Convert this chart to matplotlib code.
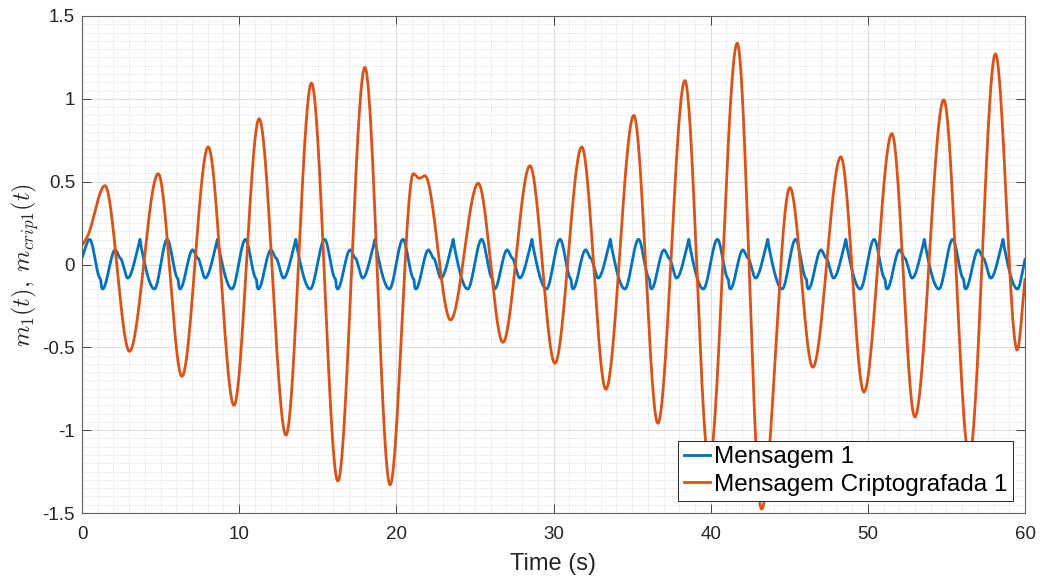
import numpy as np
import matplotlib.pyplot as plt
from matplotlib.ticker import MultipleLocator

plt.rcParams['font.family'] = ['Liberation Sans', 'DejaVu Sans']
plt.rcParams['mathtext.fontset'] = 'cm'

# %% mensagem 1 -- one period of the message (phase in s from the big peak, value)
blue_phase = [0.00, 0.60, 0.70, 0.75, 0.82, 1.62, 1.92, 2.00, 2.06, 2.42, 3.12, 3.20, 3.25, 4.12]
blue_shape = [0.152, -0.075, -0.092, -0.135, -0.148, 0.088, 0.040, 0.034, 0.018, -0.082,
              0.120, 0.152, 0.118, -0.148]
# time of the big peak in each period
blue_starts = [0.49, 5.42, 10.40, 15.44, 20.42, 25.43, 30.42, 35.41, 40.43, 45.40, 50.40, 55.40]
blue_t0, blue_v0 = 0.0, 0.04
blue_t1, blue_v1 = 60.0, 0.03

# %% mensagem criptografada 1 -- extrema
crip_t = [0.0, 0.35, 1.46, 3.02, 4.85, 6.36, 8.03, 9.67, 11.27, 12.98,
          14.6, 16.28, 18.0, 19.6, 21.08, 21.46, 21.82, 23.45, 25.21, 26.78,
          28.5, 30.09, 31.8, 33.33, 35.11, 36.64, 38.36, 39.9, 41.69, 43.24,
          45.04, 46.5, 48.28, 49.75, 51.53, 52.99, 54.83, 56.45, 58.12, 59.5, 60.0]
crip_v = [0.115, 0.17, 0.476, -0.524, 0.548, -0.675, 0.71, -0.85, 0.88, -1.03,
          1.095, -1.307, 1.19, -1.33, 0.548, 0.52, 0.536, -0.335, 0.49, -0.47,
          0.596, -0.596, 0.71, -0.753, 0.9, -0.958, 1.11, -1.2, 1.336, -1.476,
          0.464, -0.62, 0.65, -0.77, 0.79, -0.92, 0.994, -1.16, 1.271, -0.516, -0.09]

yticks = [-1.5, -1, -0.5, 0, 0.5, 1, 1.5]
ytick_labels = ['-1.5', '-1', '-0.5', '0', '0.5', '1', '1.5']
xticks = [0, 10, 20, 30, 40, 50, 60]


def pchip(x, y, xs):
    # monotone cubic through the points
    x = np.asarray(x, float)
    y = np.asarray(y, float)
    h = np.diff(x)
    d = np.diff(y) / h
    m = np.zeros_like(y)
    for k in range(1, len(x) - 1):
        if d[k - 1] * d[k] > 0:
            w1 = 2 * h[k] + h[k - 1]
            w2 = h[k] + 2 * h[k - 1]
            m[k] = (w1 + w2) / (w1 / d[k - 1] + w2 / d[k])
    m[0] = d[0]
    m[-1] = d[-1]
    i = np.clip(np.searchsorted(x, xs, side='right') - 1, 0, len(x) - 2)
    s = (xs - x[i]) / h[i]
    h00 = 2 * s**3 - 3 * s**2 + 1
    h10 = s**3 - 2 * s**2 + s
    h01 = -2 * s**3 + 3 * s**2
    h11 = s**3 - s**2
    return h00 * y[i] + h10 * h[i] * m[i] + h01 * y[i + 1] + h11 * h[i] * m[i + 1]


bt = [blue_t0] + [s + p for s in blue_starts for p in blue_phase] + [blue_t1]
bv = [blue_v0] + blue_shape * len(blue_starts) + [blue_v1]

t = np.linspace(0, 60, 6001)
m1 = pchip(bt, bv, t)
mc = pchip(crip_t, crip_v, t)

# %%
fig = plt.figure(figsize=(10.4, 5.79), dpi=100)
ax = fig.add_axes([82 / 1040, 1 - 513 / 579, 943 / 1040, 497 / 579])

ax.plot(t, m1, color='#0072BD', lw=2, label='Mensagem 1')
ax.plot(t, mc, color='#D95319', lw=2, label='Mensagem Criptografada 1')

ax.set_xlim(0, 60)
ax.set_ylim(-1.5, 1.5)
ax.set_xticks(xticks)
ax.set_xticklabels([str(v) for v in xticks])
ax.set_yticks(yticks)
ax.set_yticklabels(ytick_labels)
ax.xaxis.set_minor_locator(MultipleLocator(1))
ax.yaxis.set_minor_locator(MultipleLocator(0.05))

ax.set_axisbelow(True)
ax.grid(which='major', color='#dedede', lw=0.8, ls='-')
ax.grid(which='minor', color='#d4d4d4', lw=0.6, ls=':')

ax.tick_params(which='major', direction='in', length=6.5, width=0.6, top=True, right=True,
               colors='#262626', labelsize=13.5, pad=5)
ax.tick_params(axis='x', which='major', pad=9.5)
ax.tick_params(which='minor', length=0, top=True, right=True)
for sp in ax.spines.values():
    sp.set_color('#606060')
    sp.set_linewidth(0.8)

ax.set_xlabel('Time (s)', fontsize=17, color='#262626', labelpad=7)
ax.set_ylabel(r'$m_1(t),\; m_{crip1}(t)$', fontsize=17.5, color='#262626', labelpad=1)

leg = ax.legend(loc='lower right', bbox_to_anchor=(0.987, 0.024), borderaxespad=0,
                fontsize=17.5, handlelength=1.1, handletextpad=0.15, labelspacing=0.22,
                borderpad=0.22, fancybox=False, framealpha=1, edgecolor='#262626')
leg.get_frame().set_linewidth(0.7)

fig.savefig('out.png', dpi=100)
